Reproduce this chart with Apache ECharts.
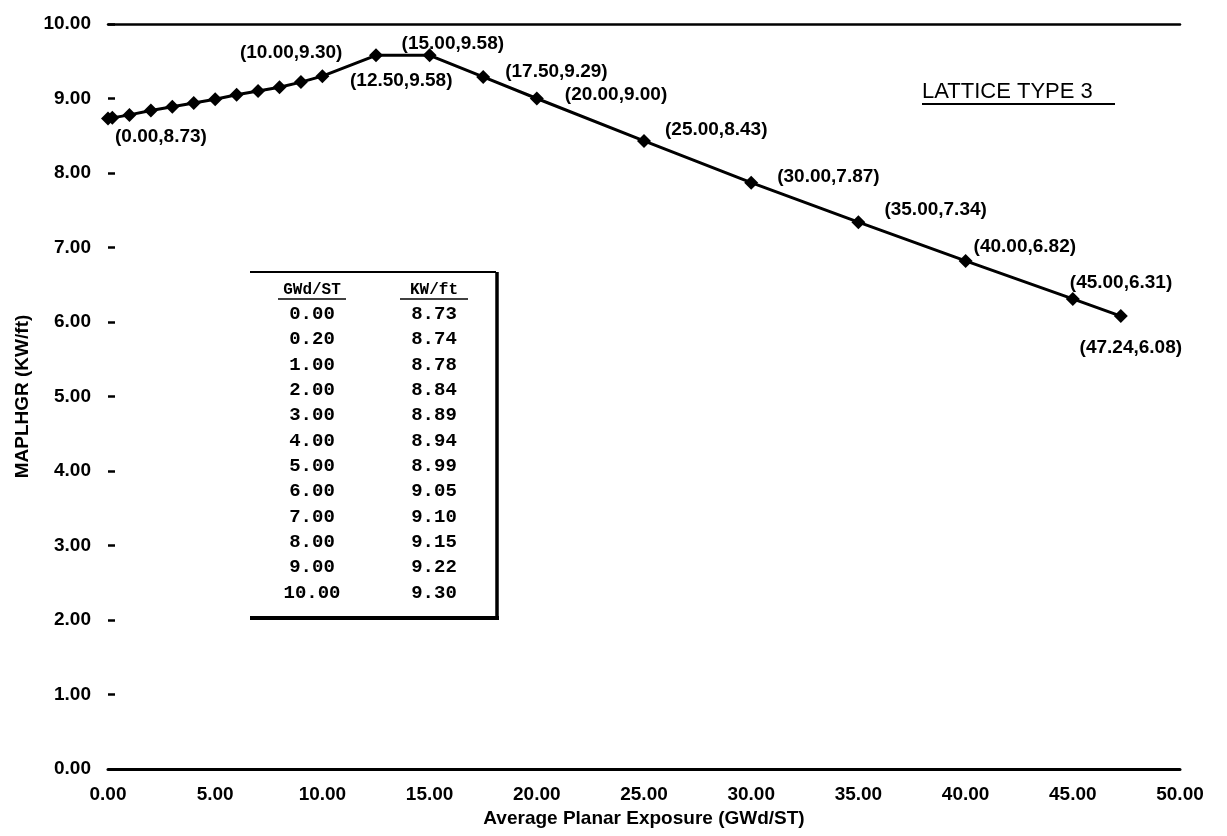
<!DOCTYPE html>
<html>
<head>
<meta charset="utf-8">
<script src="https://cdn.jsdelivr.net/npm/echarts@6/dist/echarts.min.js"></script>
<style>
html,body{margin:0;padding:0;background:#fff;}
#chart{width:1227px;height:836px;}
</style>
</head>
<body>
<div id="chart"></div>
<script>
// ---- data ----
var exposure = [0, 0.2, 1, 2, 3, 4, 5, 6, 7, 8, 9, 10, 12.5, 15, 17.5, 20, 25, 30, 35, 40, 45, 47.24];
var maplhgr  = [8.73, 8.74, 8.78, 8.84, 8.89, 8.94, 8.99, 9.05, 9.10, 9.15, 9.22, 9.30, 9.58, 9.58, 9.29, 9.00, 8.43, 7.87, 7.34, 6.82, 6.31, 6.08];
var tableExposure = [0, 0.2, 1, 2, 3, 4, 5, 6, 7, 8, 9, 10];
var tableMaplhgr  = [8.73, 8.74, 8.78, 8.84, 8.89, 8.94, 8.99, 9.05, 9.10, 9.15, 9.22, 9.30];
var tableHeaders = ['GWd/ST', 'KW/ft'];
var latticeTitle = 'LATTICE TYPE 3';
var xAxisTitle = 'Average Planar Exposure (GWd/ST)';
var yAxisTitle = 'MAPLHGR (KW/ft)';

// label placement (layout only): index -> [align, dx, dy]
var labelLayout = {
  0:  ['left', 7, 18],
  11: ['right', 20, -23],
  12: ['left', -26, 25],
  13: ['left', -28, -12],
  14: ['left', 22, -5],
  15: ['left', 28, -4],
  16: ['left', 21, -11],
  17: ['left', 26, -6],
  18: ['left', 26, -12],
  19: ['left', 8, -14],
  20: ['left', -3, -16],
  21: ['center', 10, 32]
};

var FONT = 'Liberation Sans, Arial, sans-serif';
var MONO = 'Liberation Mono, Courier New, monospace';

function fmt(v){ return v.toFixed(2); }

var seriesData = exposure.map(function(x, i){
  var item = { value: [x, maplhgr[i]] };
  var L = labelLayout[i];
  if (L) {
    item.label = {
      show: true, position: 'inside', align: L[0], verticalAlign: 'middle',
      offset: [L[1], L[2]],
      formatter: '(' + fmt(x) + ',' + fmt(maplhgr[i]) + ')',
      color: '#000', fontFamily: FONT, fontWeight: 'bold', fontSize: 19
    };
  } else {
    item.label = { show: false };
  }
  return item;
});

// ---- inset table graphics ----
var graphics = [];
var col1 = 312, col2 = 434, row0 = 314, rowStep = 25.36;
graphics.push({ type:'line', shape:{x1:250,y1:272,x2:496,y2:272}, style:{stroke:'#000', lineWidth:2}});
graphics.push({ type:'line', shape:{x1:497,y1:272,x2:497,y2:619}, style:{stroke:'#000', lineWidth:3.5}});
graphics.push({ type:'line', shape:{x1:250,y1:618,x2:499,y2:618}, style:{stroke:'#000', lineWidth:4}});
[col1, col2].forEach(function(cx, k){
  graphics.push({ type:'text', x: cx, y: 290, style:{ text: tableHeaders[k], fill:'#000', font:'bold 16px ' + MONO, textAlign:'center', textVerticalAlign:'middle'}});
  graphics.push({ type:'line', shape:{x1: cx - 34, y1: 299, x2: cx + 34, y2: 299}, style:{stroke:'#000', lineWidth:1.5}});
});
tableExposure.forEach(function(v, i){
  var y = row0 + i * rowStep;
  graphics.push({ type:'text', x: col1, y: y, style:{ text: fmt(v), fill:'#000', font:'bold 19px ' + MONO, textAlign:'center', textVerticalAlign:'middle'}});
  graphics.push({ type:'text', x: col2, y: y, style:{ text: fmt(tableMaplhgr[i]), fill:'#000', font:'bold 19px ' + MONO, textAlign:'center', textVerticalAlign:'middle'}});
});
// lattice title
graphics.push({ type:'text', x: 922, y: 92, style:{ text: latticeTitle, fill:'#000', font:'22px ' + FONT, textAlign:'left', textVerticalAlign:'middle'}});
graphics.push({ type:'line', shape:{x1:922,y1:104,x2:1115,y2:104}, style:{stroke:'#000', lineWidth:2}});

var chart = echarts.init(document.getElementById('chart'), null, {renderer:'canvas'});
chart.setOption({
  backgroundColor: '#fff',
  animation: false,
  grid: { left: 108, right: 47, top: 24, bottom: 67 },
  xAxis: [{
    type: 'value', min: 0, max: 50, interval: 5, position: 'bottom',
    axisLine: { show: true, lineStyle: { color: '#000', width: 3 } },
    axisTick: { show: false },
    splitLine: { show: false },
    axisLabel: { formatter: fmt, color: '#000', fontFamily: FONT, fontWeight: 'bold', fontSize: 19, margin: 16 },
    name: xAxisTitle, nameLocation: 'middle', nameGap: 40,
    nameTextStyle: { color: '#000', fontFamily: FONT, fontWeight: 'bold', fontSize: 19 }
  }, {
    type: 'value', min: 0, max: 50, position: 'top',
    axisLine: { show: true, lineStyle: { color: '#000', width: 2.5 } },
    axisTick: { show: false }, axisLabel: { show: false }, splitLine: { show: false }
  }],
  yAxis: {
    type: 'value', min: 0, max: 10, interval: 1,
    axisLine: { show: false },
    axisTick: { show: true, inside: true, length: 7, lineStyle: { color: '#000', width: 2.5 } },
    splitLine: { show: false },
    axisLabel: { formatter: fmt, color: '#000', fontFamily: FONT, fontWeight: 'bold', fontSize: 19, margin: 17 },
    name: yAxisTitle, nameLocation: 'middle', nameGap: 75, nameRotate: 90,
    nameTextStyle: { color: '#000', fontFamily: FONT, fontWeight: 'bold', fontSize: 19 }
  },
  series: [{
    type: 'line',
    data: seriesData,
    symbol: 'diamond', symbolSize: 14,
    itemStyle: { color: '#000' },
    lineStyle: { color: '#000', width: 3 },
    z: 3
  }],
  graphic: graphics
});
</script>
</body>
</html>
